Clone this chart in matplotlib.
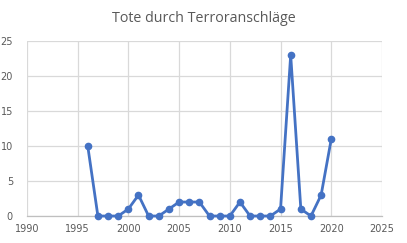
import matplotlib
matplotlib.use("Agg")
import matplotlib.pyplot as plt

years = [1996, 1997, 1998, 1999, 2000, 2001, 2002, 2003, 2004, 2005, 2006, 2007, 2008,
         2009, 2010, 2011, 2012, 2013, 2014, 2015, 2016, 2017, 2018, 2019, 2020]
deaths = [10, 0, 0, 0, 1, 3, 0, 0, 1, 2, 2, 2, 0, 0, 0, 2, 0, 0, 0, 1, 23, 1, 0, 3, 11]
xticks = [1990, 1995, 2000, 2005, 2010, 2015, 2020, 2025]
yticks = [0, 5, 10, 15, 20, 25]

plt.rcParams['font.family'] = ['DejaVu Sans']
fig = plt.figure(figsize=(4.07, 2.43), dpi=100)
ax = fig.add_axes([0.066, 0.111, 0.8726, 0.72])
ax.plot(years, deaths, color='#4472C4', lw=2.0, marker='o', ms=4.5, zorder=3, clip_on=False)
ax.set_xlim(1990, 2025)
ax.set_ylim(0, 25)
ax.set_xticks(xticks)
ax.set_yticks(yticks)
ax.grid(True, color='#D9D9D9', lw=0.9)
for s in ['top', 'right', 'left']:
    ax.spines[s].set_visible(False)
ax.spines['bottom'].set_color('#BFBFBF')
ax.spines['bottom'].set_linewidth(0.9)
ax.tick_params(length=0, labelsize=7, colors='#595959')
ax.tick_params(axis='y', pad=10)
ax.tick_params(axis='x', pad=6)
fig.suptitle('Tote durch Terroranschläge', x=0.5, y=0.955, fontsize=10.3,
             color='#595959', family=['Open Sans', 'DejaVu Sans'])
fig.savefig('out.png', dpi=100)
